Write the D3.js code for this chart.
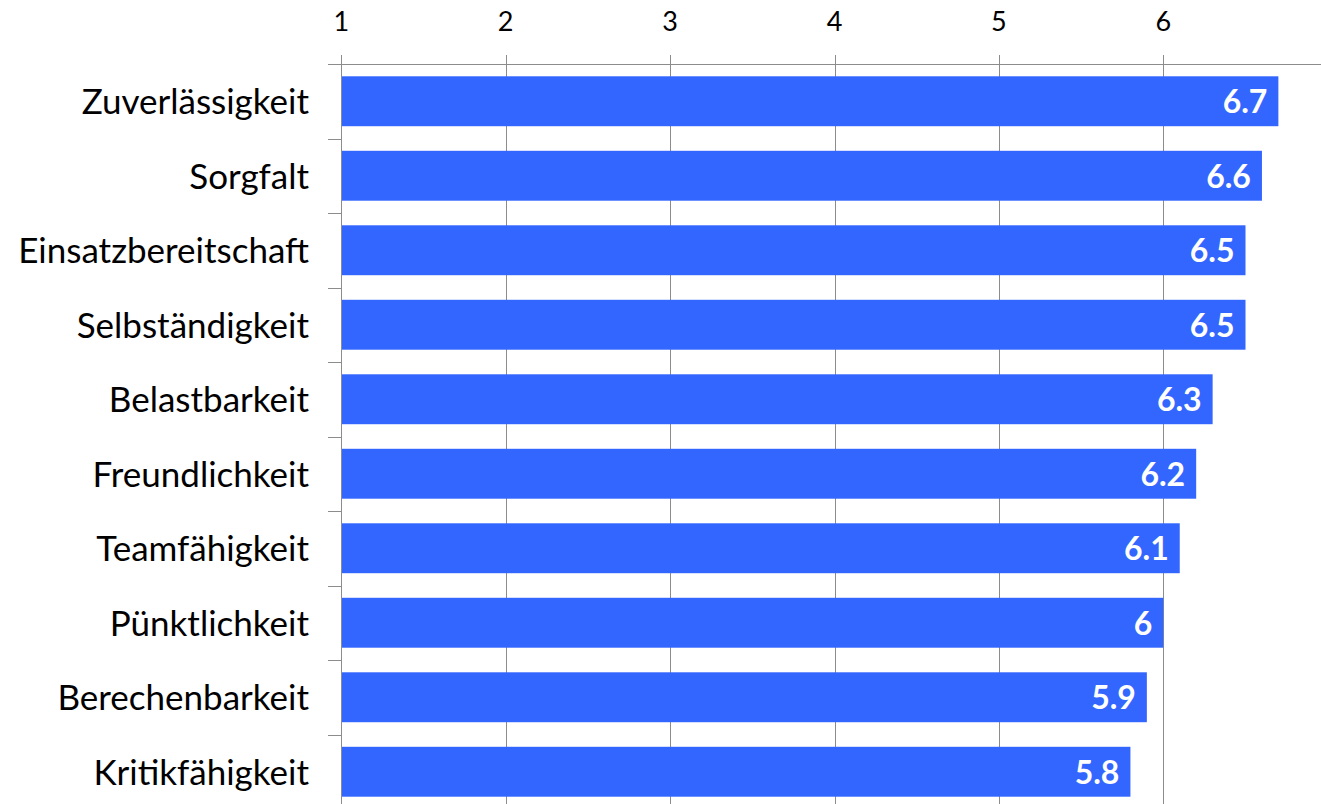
<!DOCTYPE html>
<html><head><meta charset="utf-8">
<script src="https://cdn.jsdelivr.net/npm/d3@7"></script>
<style>
html,body{margin:0;padding:0;background:#fff;overflow:hidden}
svg{display:block}
</style></head>
<body>
<svg id="chart" width="1321" height="804"></svg>
<script>
const categories = ["Zuverlässigkeit","Sorgfalt","Einsatzbereitschaft","Selbständigkeit","Belastbarkeit","Freundlichkeit","Teamfähigkeit","Pünktlichkeit","Berechenbarkeit","Kritikfähigkeit"];
const values = [6.7,6.6,6.5,6.5,6.3,6.2,6.1,6,5.9,5.8];
const tickValues = [1,2,3,4,5,6];

const svg = d3.select("#chart");
const W = 1321, H = 804;
const font = "Lato, 'Open Sans', sans-serif";
const gridColor = "#8c8c8c";

const x = d3.scaleLinear().domain([1,7]).range([341.3, 1327.7]);
const y = d3.scaleBand().domain(categories).range([64, 809]).paddingInner(0.33).paddingOuter(0.165);
const step = y.step();

// vertical gridlines + top ticks
svg.append("g").selectAll("line").data(tickValues).join("line")
  .attr("x1", d => Math.round(x(d)) + 0.5).attr("x2", d => Math.round(x(d)) + 0.5)
  .attr("y1", 55).attr("y2", H)
  .attr("stroke", gridColor).attr("stroke-width", 1);

// top axis line
svg.append("line").attr("x1", 328).attr("x2", W).attr("y1", 64.5).attr("y2", 64.5)
  .attr("stroke", gridColor).attr("stroke-width", 1);

// tick labels
svg.append("g").selectAll("text").data(tickValues).join("text")
  .attr("x", d => x(d)).attr("y", 31)
  .attr("text-anchor", "middle")
  .attr("font-family", font).attr("font-size", 27)
  .attr("fill", "#000").text(d => d);

// bars
svg.append("g").selectAll("rect").data(values).join("rect")
  .attr("x", x(1))
  .attr("y", (d,i) => y(categories[i]))
  .attr("width", d => x(d) - x(1))
  .attr("height", y.bandwidth())
  .attr("fill", "#3366FF");

// left axis line and category ticks
svg.append("line").attr("x1", Math.round(x(1)) + 0.5).attr("x2", Math.round(x(1)) + 0.5)
  .attr("y1", 64).attr("y2", H).attr("stroke", gridColor).attr("stroke-width", 1);
const bounds = d3.range(categories.length + 1).map(i => 64 + i * step);
svg.append("g").selectAll("line").data(bounds).join("line")
  .attr("x1", 328).attr("x2", Math.round(x(1)))
  .attr("y1", d => Math.round(d) + 0.5).attr("y2", d => Math.round(d) + 0.5)
  .attr("stroke", gridColor).attr("stroke-width", 1);

// category labels
svg.append("g").selectAll("text").data(categories).join("text")
  .attr("x", 309)
  .attr("y", d => y(d) + y.bandwidth() / 2)
  .attr("dy", "0.37em")
  .attr("text-anchor", "end")
  .attr("font-family", font).attr("font-size", 35)
  .attr("fill", "#000").text(d => d);

// value labels
svg.append("g").selectAll("text").data(values).join("text")
  .attr("x", d => x(d) - 11)
  .attr("y", (d,i) => y(categories[i]) + y.bandwidth() / 2)
  .attr("dy", "0.37em")
  .attr("text-anchor", "end")
  .attr("font-family", font).attr("font-size", 32).attr("font-weight", "bold")
  .attr("fill", "#fff").text(d => d);
</script>
</body></html>
